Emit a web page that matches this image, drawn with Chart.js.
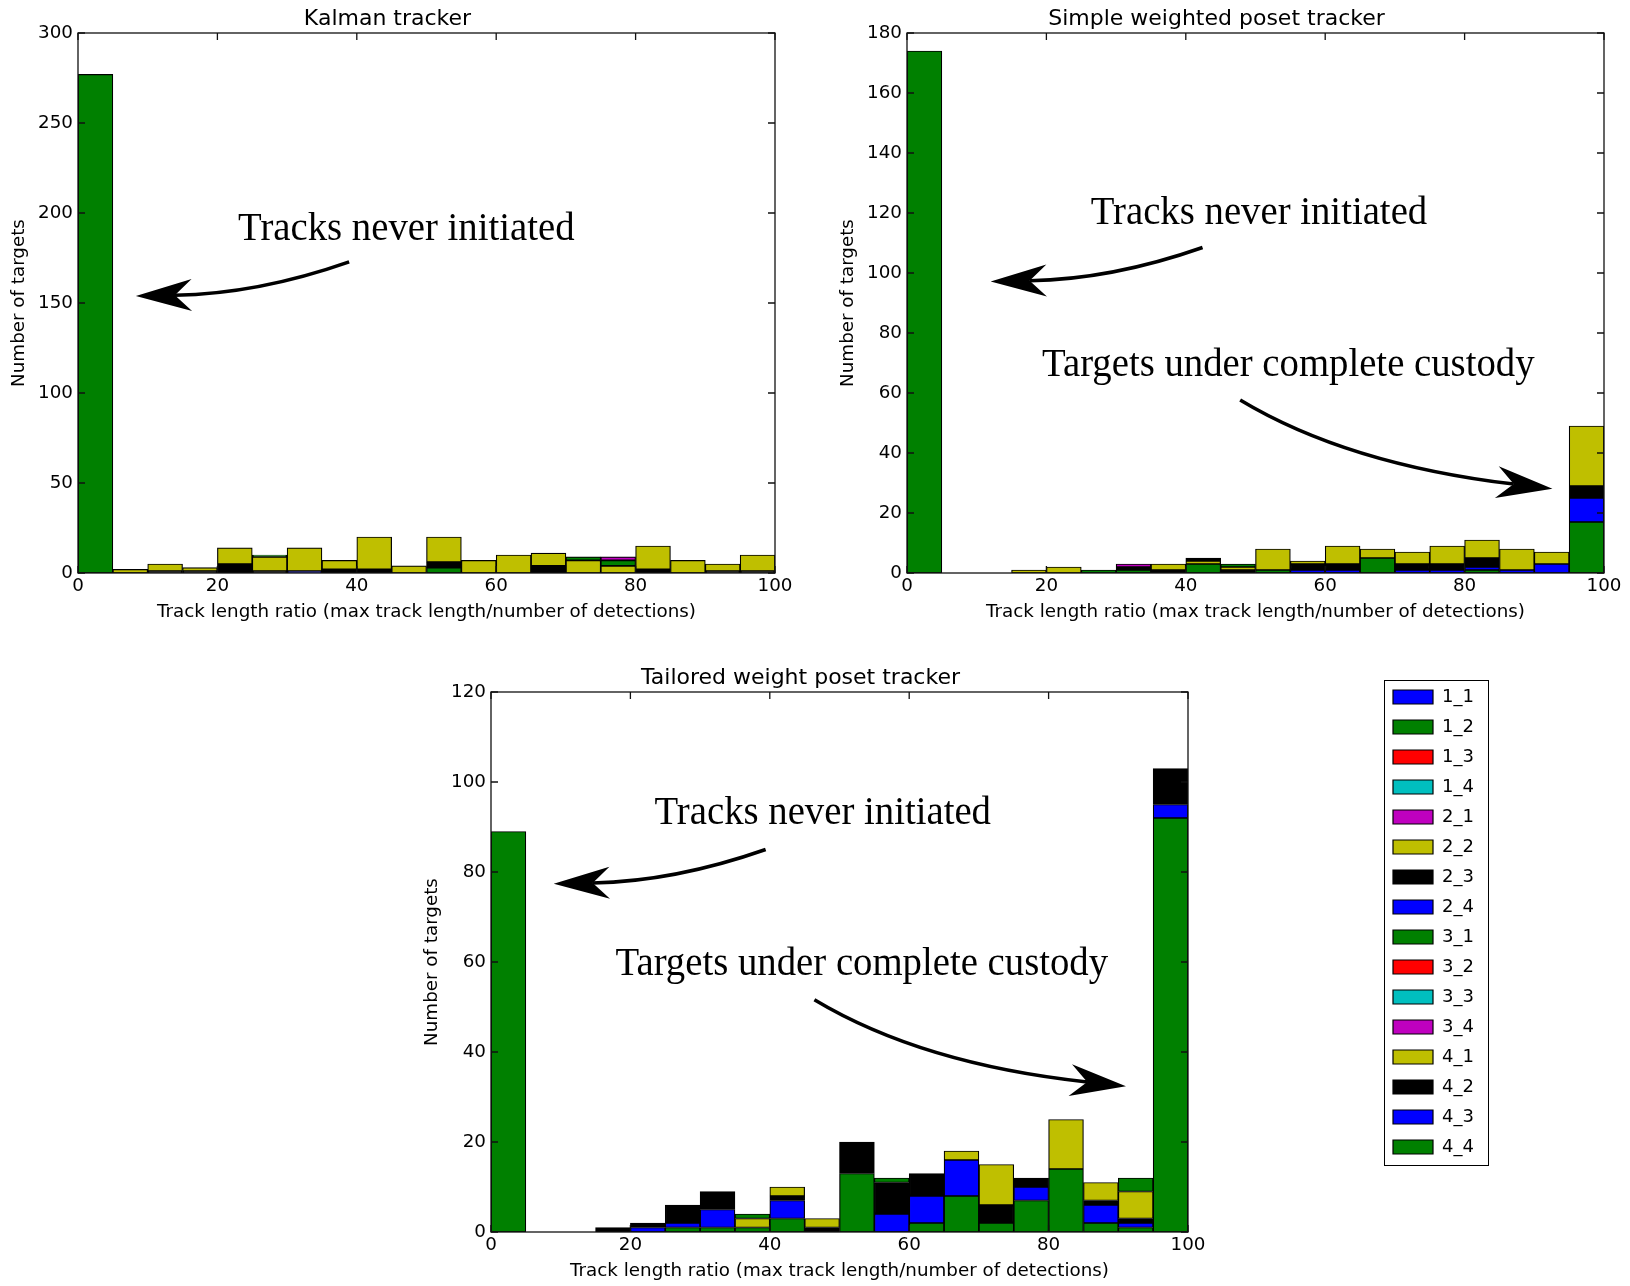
<!DOCTYPE html>
<html>
<head>
<meta charset="utf-8">
<title>Track length ratio histograms</title>
<script src="https://cdn.jsdelivr.net/npm/chart.js@4.4.1/dist/chart.umd.min.js"></script>
<style>
  html, body { margin: 0; padding: 0; background: #fff; overflow: hidden; }
  body { position: relative; width: 1630px; height: 1286px; }
  canvas.plot { position: absolute; }
  #legendBox { position: absolute; left: 1384px; top: 680px; width: 105px; height: 486px;
               border: 1px solid #000; box-sizing: border-box; overflow: hidden; }
  #legendBox canvas { position: absolute; left: -4px; top: -5px; }
</style>
</head>
<body>
<canvas id="kalman" class="plot" width="800" height="627" style="left:0;top:0"></canvas>
<canvas id="simple" class="plot" width="800" height="627" style="left:829px;top:0"></canvas>
<canvas id="tailored" class="plot" width="800" height="627" style="left:413px;top:659px"></canvas>
<div id="legendBox"><canvas id="legend" width="230" height="510"></canvas></div>
<script>
const FONT = 'DejaVu Sans';

// ---- data ----------------------------------------------------------------
const binCenters = [2.5, 7.5, 12.5, 17.5, 22.5, 27.5, 32.5, 37.5, 42.5, 47.5,
                    52.5, 57.5, 62.5, 67.5, 72.5, 77.5, 82.5, 87.5, 92.5, 97.5];
const xTicks = [0, 20, 40, 60, 80, 100];
const kalmanYTicks = [0, 50, 100, 150, 200, 250, 300];
const simpleYTicks = [0, 20, 40, 60, 80, 100, 120, 140, 160, 180];
const tailoredYTicks = [0, 20, 40, 60, 80, 100, 120];

const seriesNames = ['1_1', '1_2', '1_3', '1_4', '2_1', '2_2', '2_3', '2_4',
                     '3_1', '3_2', '3_3', '3_4', '4_1', '4_2', '4_3', '4_4'];
const seriesColors = ['#0000ff', '#008000', '#ff0000', '#00bfbf', '#bf00bf', '#bfbf00', '#000000', '#0000ff',
                      '#008000', '#ff0000', '#00bfbf', '#bf00bf', '#bfbf00', '#000000', '#0000ff', '#008000'];

// Kalman tracker (series not listed are all zero)
const kalman4_4 = [277, 0, 0, 0, 0, 0, 0, 0, 0, 0, 3, 0, 0, 0, 0, 0, 0, 0, 0, 0];
const kalman4_3 = [0, 0, 0, 0, 0, 0, 1, 0, 0, 0, 0, 0, 0, 0, 0, 0, 0, 0, 0, 0];
const kalman4_2 = [0, 0, 1, 1, 5, 1, 0, 2, 2, 0, 3, 0, 0, 4, 0, 0, 2, 0, 1, 1];
const kalman4_1 = [0, 2, 4, 2, 9, 8, 13, 5, 18, 4, 14, 7, 10, 7, 7, 4, 13, 7, 4, 9];
const kalman3_1 = [0, 0, 0, 0, 0, 1, 0, 0, 0, 0, 0, 0, 0, 0, 2, 3, 0, 0, 0, 0];
const kalman2_1 = [0, 0, 0, 0, 0, 0, 0, 0, 0, 0, 0, 0, 0, 0, 0, 2, 0, 0, 0, 0];

// Simple weighted poset tracker
const simple4_4 = [174, 0, 0, 0, 0, 1, 1, 0, 3, 0, 1, 0, 0, 5, 0, 0, 1, 0, 0, 17];
const simple4_3 = [0, 0, 0, 0, 0, 0, 0, 0, 0, 0, 0, 1, 1, 0, 1, 1, 1, 1, 3, 8];
const simple4_2 = [0, 0, 0, 0, 0, 0, 1, 1, 0, 1, 0, 2, 2, 0, 2, 2, 3, 0, 0, 4];
const simple4_1 = [0, 0, 0, 1, 2, 0, 0, 2, 1, 1, 7, 1, 6, 3, 4, 6, 6, 7, 4, 20];
const simple3_4 = [0, 0, 0, 0, 0, 0, 1, 0, 0, 0, 0, 0, 0, 0, 0, 0, 0, 0, 0, 0];
const simple3_1 = [0, 0, 0, 0, 0, 0, 0, 0, 0, 1, 0, 0, 0, 0, 0, 0, 0, 0, 0, 0];
const simple2_3 = [0, 0, 0, 0, 0, 0, 0, 0, 1, 0, 0, 0, 0, 0, 0, 0, 0, 0, 0, 0];

// Tailored weight poset tracker
const tailored4_4 = [89, 0, 0, 0, 0, 1, 1, 1, 3, 0, 13, 0, 2, 8, 2, 7, 14, 2, 1, 92];
const tailored4_3 = [0, 0, 0, 0, 1, 1, 4, 0, 4, 0, 0, 4, 6, 8, 0, 3, 0, 4, 1, 3];
const tailored4_2 = [0, 0, 0, 1, 1, 4, 4, 0, 1, 1, 7, 7, 5, 0, 4, 2, 0, 1, 1, 8];
const tailored4_1 = [0, 0, 0, 0, 0, 0, 0, 2, 2, 2, 0, 0, 0, 2, 9, 0, 11, 4, 6, 0];
const tailored3_1 = [0, 0, 0, 0, 0, 0, 0, 1, 0, 0, 0, 1, 0, 0, 0, 0, 0, 0, 3, 0];

const xTitle = 'Track length ratio (max track length/number of detections)';
const yTitle = 'Number of targets';
const neverText = 'Tracks never initiated';
const custodyText = 'Targets under complete custody';

// ---- helpers ---------------------------------------------------------------
// 4_4 is pushed first so it sits at the bottom of each stack, as in the original
function buildDatasets(values) {
  const sets = [];
  for (let i = seriesNames.length - 1; i >= 0; i--) {
    const v = values[seriesNames[i]];
    if (!v) continue;
    sets.push({
      label: seriesNames[i],
      data: v.map((y, j) => ({ x: binCenters[j], y: y })),
      backgroundColor: seriesColors[i],
      borderColor: '#000',
      borderWidth: 1.2,
      borderSkipped: false,
      barPercentage: 1,
      categoryPercentage: 1
    });
  }
  return sets;
}

// axes box + inward tick marks, matplotlib style
const framePlugin = {
  id: 'frame',
  afterDatasetsDraw(chart) {
    const { ctx, chartArea: a, scales } = chart;
    ctx.save();
    ctx.strokeStyle = '#111';
    ctx.lineWidth = 1.3;
    ctx.beginPath();
    scales.x.ticks.forEach(t => {
      const px = scales.x.getPixelForValue(t.value);
      ctx.moveTo(px, a.bottom); ctx.lineTo(px, a.bottom - 7);
      ctx.moveTo(px, a.top); ctx.lineTo(px, a.top + 7);
    });
    scales.y.ticks.forEach(t => {
      const py = scales.y.getPixelForValue(t.value);
      ctx.moveTo(a.left, py); ctx.lineTo(a.left + 7, py);
      ctx.moveTo(a.right, py); ctx.lineTo(a.right - 7, py);
    });
    ctx.stroke();
    ctx.strokeRect(a.left, a.top, a.right - a.left, a.bottom - a.top);
    ctx.restore();
  }
};

// big serif labels and curved arrows, positioned in data units
const notesPlugin = {
  id: 'notes',
  afterDraw(chart, args, opts) {
    const { ctx, scales: { x, y } } = chart;
    ctx.save();
    ctx.fillStyle = '#000';
    ctx.strokeStyle = '#000';
    ctx.font = '41px "Liberation Serif"';
    ctx.textAlign = 'center';
    ctx.textBaseline = 'alphabetic';
    (opts.texts || []).forEach(n => {
      ctx.save();
      ctx.translate(x.getPixelForValue(n.x), y.getPixelForValue(n.y));
      ctx.scale(0.945, 1);
      ctx.fillText(n.text, 0, 0);
      ctx.restore();
    });
    (opts.arrows || []).forEach(ar => {
      const p0 = [x.getPixelForValue(ar.from[0]), y.getPixelForValue(ar.from[1])];
      const c = [x.getPixelForValue(ar.ctrl[0]), y.getPixelForValue(ar.ctrl[1])];
      const p1 = [x.getPixelForValue(ar.to[0]), y.getPixelForValue(ar.to[1])];
      let ux = p1[0] - c[0], uy = p1[1] - c[1];
      const len = Math.hypot(ux, uy);
      ux /= len; uy /= len;
      const nx = -uy, ny = ux;
      const L = 56, W = 16, N = 39;
      ctx.lineWidth = 3.5;
      ctx.beginPath();
      ctx.moveTo(p0[0], p0[1]);
      ctx.quadraticCurveTo(c[0], c[1], p1[0] - ux * N, p1[1] - uy * N);
      ctx.stroke();
      ctx.beginPath();
      ctx.moveTo(p1[0], p1[1]);
      ctx.lineTo(p1[0] - ux * L + nx * W, p1[1] - uy * L + ny * W);
      ctx.lineTo(p1[0] - ux * N, p1[1] - uy * N);
      ctx.lineTo(p1[0] - ux * L - nx * W, p1[1] - uy * L - ny * W);
      ctx.closePath();
      ctx.fill();
    });
    ctx.restore();
  }
};

function histChart(id, title, values, yMax, yTicks, notes) {
  return new Chart(document.getElementById(id), {
    type: 'bar',
    data: { datasets: buildDatasets(values) },
    options: {
      responsive: false,
      animation: false,
      layout: { padding: { left: 0, right: 25, top: 0, bottom: 0 } },
      plugins: {
        legend: { display: false },
        tooltip: { enabled: false },
        title: {
          display: true, text: title, color: '#000',
          font: { family: FONT, size: 22, weight: 'normal' },
          padding: { top: 5.8, bottom: 0.8 }
        },
        notes: notes
      },
      scales: {
        x: {
          type: 'linear', stacked: true, offset: false, min: 0, max: 100,
          grid: { display: false, drawTicks: false },
          border: { display: false },
          afterBuildTicks: s => { s.ticks = xTicks.map(v => ({ value: v })); },
          afterFit: s => { s.height = 54; },
          ticks: { color: '#000', font: { family: FONT, size: 18.3 }, padding: 2.5, maxRotation: 0, autoSkip: false },
          title: {
            display: true, text: xTitle, color: '#000',
            font: { family: FONT, size: 18.3 }, padding: { top: 0, bottom: 4 }
          }
        },
        y: {
          type: 'linear', stacked: true, min: 0, max: yMax,
          grid: { display: false, drawTicks: false },
          border: { display: false },
          afterBuildTicks: s => { s.ticks = yTicks.map(v => ({ value: v })); },
          afterFit: s => { s.width = 78; },
          ticks: { color: '#000', font: { family: FONT, size: 18.3 }, padding: 5, autoSkip: false },
          title: {
            display: true, text: yTitle, color: '#000',
            font: { family: FONT, size: 18.3 }, padding: { top: 8, bottom: 0 }
          }
        }
      }
    },
    plugins: [framePlugin, notesPlugin]
  });
}

// ---- charts ----------------------------------------------------------------
histChart('kalman', 'Kalman tracker',
  { '4_4': kalman4_4, '4_3': kalman4_3, '4_2': kalman4_2, '4_1': kalman4_1, '3_1': kalman3_1, '2_1': kalman2_1 },
  300, kalmanYTicks,
  {
    texts: [{ text: neverText, x: 47.1, y: 185 }],
    arrows: [{ from: [38.9, 172.8], ctrl: [25.8, 155], to: [8.3, 153.9] }]
  });

histChart('simple', 'Simple weighted poset tracker',
  { '4_4': simple4_4, '4_3': simple4_3, '4_2': simple4_2, '4_1': simple4_1,
    '3_4': simple3_4, '3_1': simple3_1, '2_3': simple2_3 },
  180, simpleYTicks,
  {
    texts: [{ text: neverText, x: 50.5, y: 116.2 }, { text: custodyText, x: 54.7, y: 65.6 }],
    arrows: [
      { from: [42.4, 108.5], ctrl: [29.4, 97.9], to: [12.0, 97.2] },
      { from: [47.8, 57.7], ctrl: [63.1, 36.3], to: [92.6, 28.1] }
    ]
  });

histChart('tailored', 'Tailored weight poset tracker',
  { '4_4': tailored4_4, '4_3': tailored4_3, '4_2': tailored4_2, '4_1': tailored4_1, '3_1': tailored3_1 },
  120, tailoredYTicks,
  {
    texts: [{ text: neverText, x: 47.6, y: 90.6 }, { text: custodyText, x: 53.2, y: 57.1 }],
    arrows: [
      { from: [39.4, 85.0], ctrl: [26.3, 77.9], to: [9.0, 77.4] },
      { from: [46.4, 51.6], ctrl: [61.8, 37.3], to: [91.1, 32.4] }
    ]
  });

// legend on its own canvas, framed by the surrounding div
new Chart(document.getElementById('legend'), {
  type: 'bar',
  data: {
    labels: [],
    datasets: seriesNames.map((n, i) => ({
      label: n, data: [], backgroundColor: seriesColors[i], borderColor: '#000', borderWidth: 1.2
    }))
  },
  options: {
    responsive: false,
    animation: false,
    scales: { x: { display: false }, y: { display: false } },
    plugins: {
      tooltip: { enabled: false },
      legend: {
        position: 'left', align: 'start',
        labels: { boxWidth: 40, boxHeight: 14, padding: 12, color: '#000', font: { family: FONT, size: 18 } }
      }
    }
  }
});
</script>
</body>
</html>
